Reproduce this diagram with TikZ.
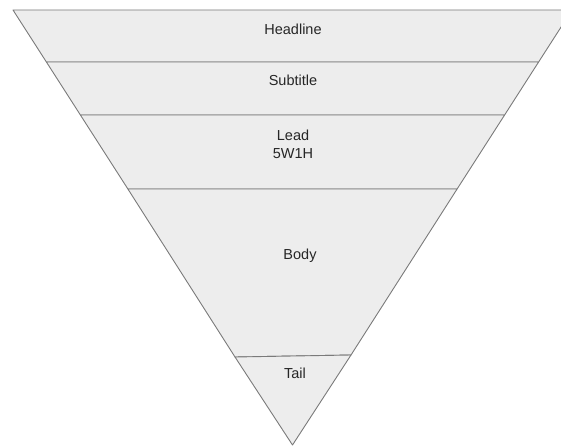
\documentclass[tikz,border=0pt]{standalone}
\usepackage{fontspec}
\setmainfont{Liberation Sans}
\begin{document}
\begin{tikzpicture}[x=1pt,y=-1pt,
  band/.style={fill=bandfill,draw=edgegray,line width=0.9pt,line join=round},
  lbl/.style={font=\fontsize{14.5}{17}\selectfont,text=black!85,inner sep=0pt,align=center}]
\definecolor{bandfill}{HTML}{EDEDED}
\definecolor{edgegray}{HTML}{7A7A7A}
\useasboundingbox (0,0) rectangle (561,446);
\clip (0,0) rectangle (561,446);
% geometry: apex (292.5,445), half-width h(y)=0.6425*(445-y)
\coordinate (A) at (292.5,445);
\coordinate (L0) at (13,10);     \coordinate (R0) at (572,10);
\coordinate (L1) at (46.4,62);   \coordinate (R1) at (538.6,62);
\coordinate (L2) at (80.4,115);  \coordinate (R2) at (504.6,115);
\coordinate (L3) at (127.9,189); \coordinate (R3) at (457.1,189);
\coordinate (L4) at (235.0,357); \coordinate (R4) at (351.0,355);
\filldraw[band] (L0) -- (R0) -- (R1) -- (L1) -- cycle;
\filldraw[band] (L1) -- (R1) -- (R2) -- (L2) -- cycle;
\filldraw[band] (L2) -- (R2) -- (R3) -- (L3) -- cycle;
\filldraw[band] (L3) -- (R3) -- (R4) -- (L4) -- cycle;
\filldraw[band] (L4) -- (R4) -- (A) -- cycle;
\node[lbl] (headline) at (293,29) {Headline};
\node[lbl] (subtitle) at (293,80) {Subtitle};
\node[lbl] (lead) at (293,135) {Lead};
\node[lbl] (fivew) at (293,154) {5W1H};
\node[lbl] (body) at (300,256) {Body};
\node[lbl] (tail) at (295,373) {Tail};
\end{tikzpicture}
\end{document}
